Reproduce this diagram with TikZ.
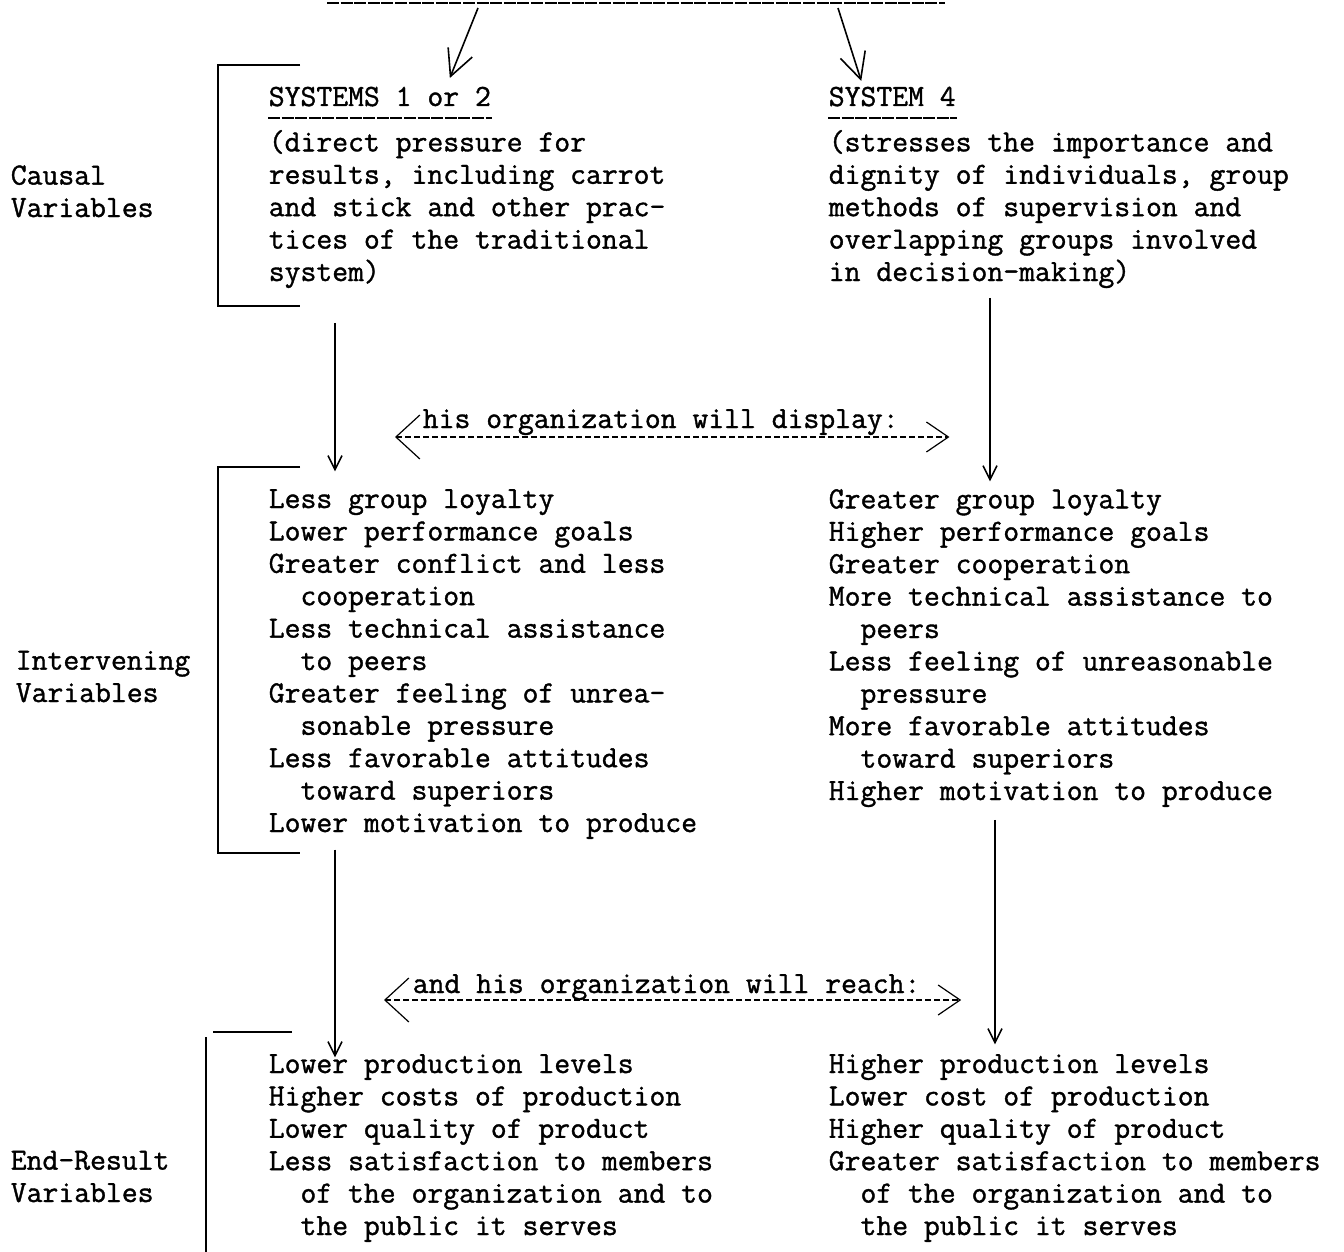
\documentclass[tikz,border=0pt]{standalone}
\usepackage{fontspec}
\newfontfamily\typer[FakeBold=1.2]{Latin Modern Mono}
\usetikzlibrary{arrows.meta}

\begin{document}
\begin{tikzpicture}[thick, x=0.5pt, y=-0.5pt,
    every node/.style={font=\typer\fontsize{15.4}{16.2}\selectfont, inner sep=0pt},
    txt/.style={anchor=base west, align=left},
    uline/.style={line width=0.6pt, dash pattern=on 6pt off 0.8pt},
    brack/.style={line width=0.9pt},
    vhead/.style={-{Straight Barb[length=7pt,width=7pt]}},
    thead/.style={-{Straight Barb[length=13pt,width=13pt]}},
    dhead/.style={{Straight Barb[length=12pt,width=22pt]}-{Straight Barb[length=11pt,width=15pt]}, line width=0.6pt, dash pattern=on 3pt off 1.5pt}]
    \useasboundingbox (0,0) rectangle (1344,1252);
    \coordinate (topL) at (327,3);
    \coordinate (topR) at (945,3);
    \coordinate (srcA) at (478,8);
    \coordinate (srcB) at (838,8);
    \coordinate (colL) at (335,0);
    \coordinate (colR) at (990,0);
    \coordinate (colRR) at (995,0);

    %Headings
    \node[txt] (sysA) at (268,106) {SYSTEMS 1 or 2};
    \node[txt] (sysB) at (828,106) {SYSTEM 4};
    \draw[uline] (topL) -- (topR);
    \draw[uline] ([yshift=-6pt]sysA.base west) -- ([yshift=-6pt]sysA.base east);
    \draw[uline] ([yshift=-6pt]sysB.base west) -- ([yshift=-6pt]sysB.base east);
    \draw[thead] (srcA) -- ([xshift=35pt, yshift=4pt]sysA.north);
    \draw[thead] (srcB) -- ([xshift=-15.5pt, yshift=2.5pt]sysB.north);

    %Causal (base = last line)
    \node[txt] (lab1) at (10,217) {Causal\\Variables};
    \node[txt] (causL) at (268,281) {(direct pressure for\\results, including carrot\\and stick and other prac-\\tices of the traditional\\system)};
    \node[txt] (causR) at (828,281) {(stresses the importance and\\dignity of individuals, group\\methods of supervision and\\overlapping groups involved\\in decision-making)};
    \draw[brack] (300,65) -- (218,65) -- (218,306) -- (300,306);

    %Intervening
    \node[txt] (lab2) at (15,702) {Intervening\\Variables};
    \node[txt] (intL) at (268,832) {Less group loyalty\\Lower performance goals\\Greater conflict and less\\\phantom{xx}cooperation\\Less technical assistance\\\phantom{xx}to peers\\Greater feeling of unrea-\\\phantom{xx}sonable pressure\\Less favorable attitudes\\\phantom{xx}toward superiors\\Lower motivation to produce};
    \node[txt] (intR) at (828,800) {Greater group loyalty\\Higher performance goals\\Greater cooperation\\More technical assistance to\\\phantom{xx}peers\\Less feeling of unreasonable\\\phantom{xx}pressure\\More favorable attitudes\\\phantom{xx}toward superiors\\Higher motivation to produce};
    \draw[brack] (300,467) -- (218,467) -- (218,853) -- (300,853);
    \draw[vhead, shorten <=17pt, shorten >=8.5pt] (causL.south -| colL) -- (intL.north -| colL);
    \draw[vhead, shorten <=4.5pt, shorten >=3.5pt] (causR.south -| colR) -- (intR.north -| colR);
    \node[txt] (disp) at (422,428) {his organization will display:};
    \draw[dhead] ([shift={(-13.5pt,-4.5pt)}]disp.base west) -- ([shift={(25pt,-4.5pt)}]disp.base east);

    %End-Result
    \node[txt] (lab3) at (10,1202) {End-Result\\Variables};
    \node[txt] (endL) at (268,1235) {Lower production levels\\Higher costs of production\\Lower quality of product\\Less satisfaction to members\\\phantom{xx}of the organization and to\\\phantom{xx}the public it serves};
    \node[txt] (endR) at (828,1235) {Higher production levels\\Lower cost of production\\Higher quality of product\\Greater satisfaction to members\\\phantom{xx}of the organization and to\\\phantom{xx}the public it serves};
    \draw[brack] (292,1032) -- (213,1032);
    \draw[brack] (206,1037) -- (206,1252);
    \draw[vhead, shorten <=5pt, shorten >=-2pt] (intL.south -| colL) -- (endL.north -| colL);
    \draw[vhead, shorten <=6pt, shorten >=4.5pt] (intR.south -| colRR) -- (endR.north -| colRR);
    \node[txt] (reach) at (412,993) {and his organization will reach:};
    \draw[dhead] ([shift={(-14pt,-3.5pt)}]reach.base west) -- ([shift={(20pt,-3.5pt)}]reach.base east);
\end{tikzpicture}
\end{document}
